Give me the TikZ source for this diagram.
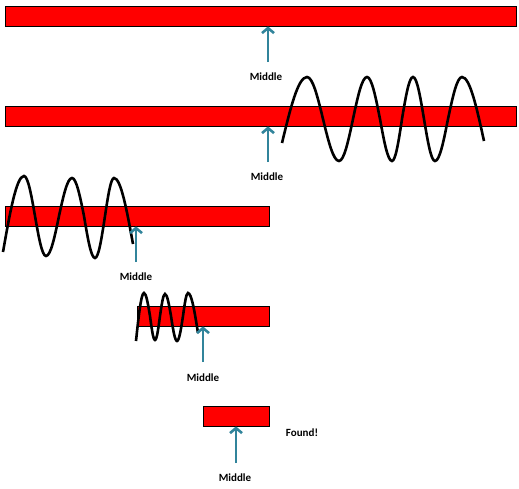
\documentclass[tikz,border=0pt]{standalone}
\usepackage{fontspec}
\setmainfont{Carlito}
\usetikzlibrary{arrows.meta}
\definecolor{arrowteal}{RGB}{49,132,155}
\begin{document}
\begin{tikzpicture}[x=1pt,y=-1pt,
    bar/.style={draw=black, line width=0.8pt, fill=red, inner sep=0pt, minimum height=20pt},
    arr/.style={arrowteal, line width=2.6pt, -{Straight Barb[length=5pt,width=12pt]}},
    lbl/.style={font=\fontsize{11}{13}\selectfont\bfseries, inner sep=1pt},
    wave/.style={black, line width=2.6pt}]
    \useasboundingbox (0,0) rectangle (519,488);
    % the shrinking search range
    \node[bar, minimum width=511pt] (bar1) at (260.5,16) {};
    \node[bar, minimum width=511pt] (bar2) at (260.5,116) {};
    \node[bar, minimum width=264pt] (bar3) at (137,216) {};
    \node[bar, minimum width=132pt] (bar4) at (203,316) {};
    \node[bar, minimum width=66pt] (bar5) at (236,416) {};
    % discarded halves
    \draw[wave] (282,143) sin (307,77) cos (323,119) sin (339,161) cos (353,119) sin (367,77)
      cos (380,119) sin (392,161) cos (402,119) sin (413,77) cos (424,119) sin (435,161)
      cos (448,119) sin (462,77) cos (484,141);
    \draw[wave] (3,252) sin (24,176) cos (35,216) sin (46,256) cos (59,216) sin (72,178)
      cos (84,216) sin (95,258) cos (105,216) sin (114,178) cos (133,244);
    \draw[wave] (136,341) sin (144,293) cos (150,316) sin (155,340) cos (160,316) sin (165,294)
      cos (171,316) sin (177,341) cos (183,316) sin (188,293) cos (198,333);
    % middle pointers
    \node[lbl] (mid1) at (266,77) {Middle};
    \node[lbl] (mid2) at (267,177) {Middle};
    \node[lbl] (mid3) at (136,277) {Middle};
    \node[lbl] (mid4) at (203,378) {Middle};
    \node[lbl] (mid5) at (235,478) {Middle};
    \coordinate (tail1) at (268,62);
    \coordinate (tail2) at (268,162);
    \coordinate (tail3) at (136,262);
    \coordinate (tail4) at (203,362);
    \coordinate (tail5) at (236,463);
    \foreach \i in {1,...,5}
      \draw[arr] (tail\i) -- (bar\i.south -| tail\i);
    \node[lbl] (found) at (302,433) {Found!};
\end{tikzpicture}
\end{document}
